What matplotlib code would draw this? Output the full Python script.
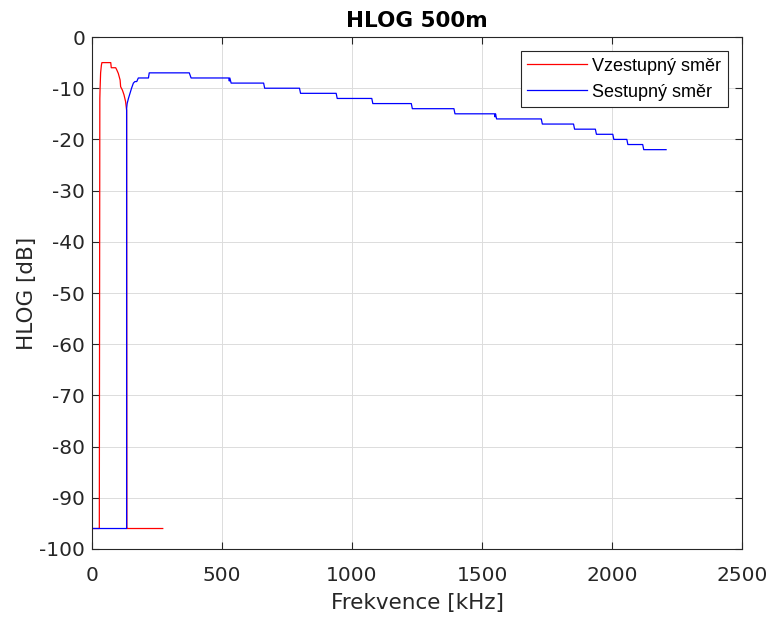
import numpy as np
import matplotlib
matplotlib.use('Agg')
import matplotlib.pyplot as plt

# upstream (red)
f_up = [0, 27, 28, 30, 31, 33, 36, 38, 72, 74, 91, 95, 101, 108, 110, 117,
        123, 129, 133, 134, 136, 272]
hlog_up = [-96, -96, -96, -12, -10, -7, -5.5, -5, -5, -6, -6, -6.4, -7.1,
           -8.4, -9.7, -10.4, -11.3, -12.6, -14.3, -96, -96, -96]

# downstream (blue)
f_dn = [0, 133, 133, 135, 140, 146, 152, 159, 165, 172, 178, 217, 220, 374,
        381, 526, 528, 530, 535, 660, 664, 798, 802, 939, 943, 1076, 1080,
        1228, 1232, 1392, 1396, 1548, 1550, 1552, 1556, 1728, 1732, 1852,
        1856, 1936, 1940, 2003, 2007, 2057, 2061, 2118, 2122, 2208]
hlog_dn = [-96, -96, -14, -13, -12, -11, -10, -9, -8.7, -8.7, -8, -8, -7, -7,
           -8, -8, -8.6, -8, -9, -9, -10, -10, -11, -11, -12, -12, -13,
           -13, -14, -14, -15, -15, -15.6, -15, -16, -16, -17, -17,
           -18, -18, -19, -19, -20, -20, -21, -21, -22, -22]

XTICKS = [0, 500, 1000, 1500, 2000, 2500]
YTICKS = list(range(-100, 1, 10))

fig = plt.figure(figsize=(7.76, 6.19), dpi=100)
ax = fig.add_axes([0.1186, 0.1131, 0.8376, 0.8271])

ax.plot(f_up, hlog_up, color='#ff0000', lw=0.9, label='Vzestupný směr')
ax.plot(f_dn, hlog_dn, color='#0000ff', lw=0.9, label='Sestupný směr')

ax.set_xlim(0, 2500)
ax.set_ylim(-100, 0)
ax.set_xticks(XTICKS)
ax.set_yticks(YTICKS)
ax.set_xticklabels([str(t) for t in XTICKS])
ax.set_yticklabels([str(t) for t in YTICKS])
ax.grid(True, color='#dcdcdc', lw=0.7)
ax.set_axisbelow(True)

ax.tick_params(direction='in', top=True, right=True, length=5,
               labelsize=14.5, colors='#262626', width=0.8)
ax.tick_params(axis='x', pad=12)
ax.tick_params(axis='y', pad=5)
for s in ax.spines.values():
    s.set_color('#262626')
    s.set_linewidth(0.8)

ax.set_xlabel('Frekvence [kHz]', fontsize=15.5, color='#262626', labelpad=6)
ax.set_ylabel('HLOG [dB]', fontsize=15.5, color='#262626', labelpad=1.5)
ax.set_title('HLOG 500m', fontsize=15.5, fontweight='bold', pad=7)

leg = ax.legend(loc='upper right', prop={'family': 'Liberation Sans', 'size': 13},
                fancybox=False, edgecolor='#262626', framealpha=1,
                borderaxespad=0.8, handlelength=3.3, handletextpad=0.3,
                labelspacing=0.5, borderpad=0.35)
leg.get_frame().set_linewidth(0.8)

fig.savefig('out.png', dpi=100)
